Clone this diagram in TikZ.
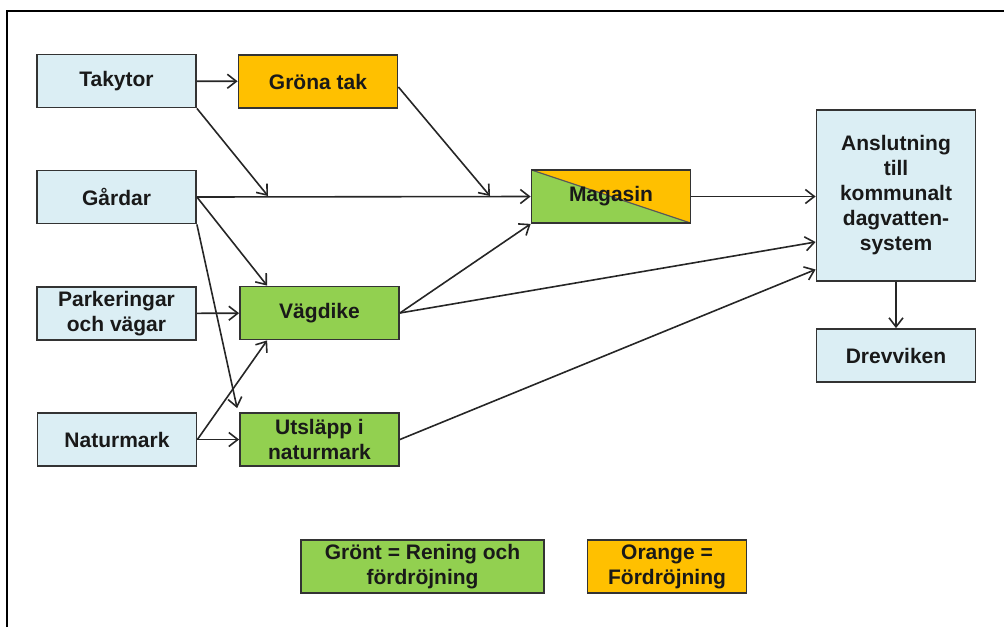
\documentclass[tikz,border=0pt]{standalone}
\usepackage{fontspec}
\setmainfont{Liberation Sans}
\usetikzlibrary{arrows.meta,calc}
\definecolor{lblue}{RGB}{219,238,244}
\definecolor{lgreen}{RGB}{146,208,80}
\definecolor{lorange}{RGB}{255,192,0}
\begin{document}
\begin{tikzpicture}[x=0.5pt,y=-0.5pt,
  box/.style={draw=black!80, line width=0.9pt, minimum width=79.5pt, minimum height=26.5pt,
    inner sep=0pt, align=center, text=black!90, font=\fontsize{10.5}{12.5}\selectfont\bfseries},
  arr/.style={line width=0.8pt, draw=black!85, -{Straight Barb[length=4.5pt,width=7pt]}}]
\useasboundingbox (0,0) rectangle (1004,627);
\draw[line width=1pt] (7,627) -- (7,11) -- (1004,11);

\node[box,fill=lblue] (tak) at (116.5,81) {Takytor};
\node[box,fill=lorange] (gron) at (318,81.5) {Gröna tak};
\node[box,fill=lblue] (gard) at (116.5,197) {Gårdar};
\node[box,fill=lblue] (park) at (116.5,313.5) {Parkeringar\\och vägar};
\node[box,fill=lblue] (nat) at (117,439.5) {Naturmark};
\node[box,fill=lgreen] (vag) at (319.5,313) {Vägdike};
\node[box,fill=lgreen] (uts) at (319.5,439.5) {Utsläpp i\\naturmark};
\node[box,path picture={
    \fill[lorange] (path picture bounding box.north west) rectangle (path picture bounding box.south east);
    \fill[lgreen] (path picture bounding box.north west) -- (path picture bounding box.south west) -- (path picture bounding box.south east) -- cycle;
    \draw[black!65,line width=0.6pt] (path picture bounding box.north west) -- (path picture bounding box.south east);
  }] (mag) at (611,196.5) {Magasin};
\node[box,fill=lblue,minimum height=85.5pt] (ans) at (896,195.5) {Anslutning\\till\\kommunalt\\dagvatten-\\system};
\node[box,fill=lblue] (drev) at (896,355.5) {Drevviken};
\node[box,fill=lgreen,minimum width=121.5pt] (lg) at (422.5,566.5) {Grönt = Rening och\\fördröjning};
\node[box,fill=lorange] (lo) at (667,566.5) {Orange =\\Fördröjning};

\coordinate (j1) at (268,196);
\coordinate (j2) at (490,196);

\draw[arr] (tak) -- (gron);
\draw[arr] (tak.south east) -- (j1);
\draw[arr] ([yshift=-2.75pt]gron.east) -- (j2);
\draw[arr] (gard.east) -- (mag.west);
\draw[arr] (gard.east) -- ([xshift=14pt]vag.north west);
\draw[arr] (gard.south east) -- ([xshift=-1pt,yshift=2pt]uts.north west);
\draw[arr] (park) -- (vag);
\draw[arr] (nat) -- (uts);
\draw[arr] (nat.east) -- ([xshift=14pt]vag.south west);
\draw[arr] (vag.east) -- (mag.south west);
\draw[arr] (vag.east) -- ($(ans.west)+(0,46.5)$);
\draw[arr] (uts.east) -- ($(ans.west)+(0,74)$);
\draw[arr] (mag.east) -- (mag.east -| ans.west);
\draw[arr] (ans) -- (drev);
\end{tikzpicture}
\end{document}
